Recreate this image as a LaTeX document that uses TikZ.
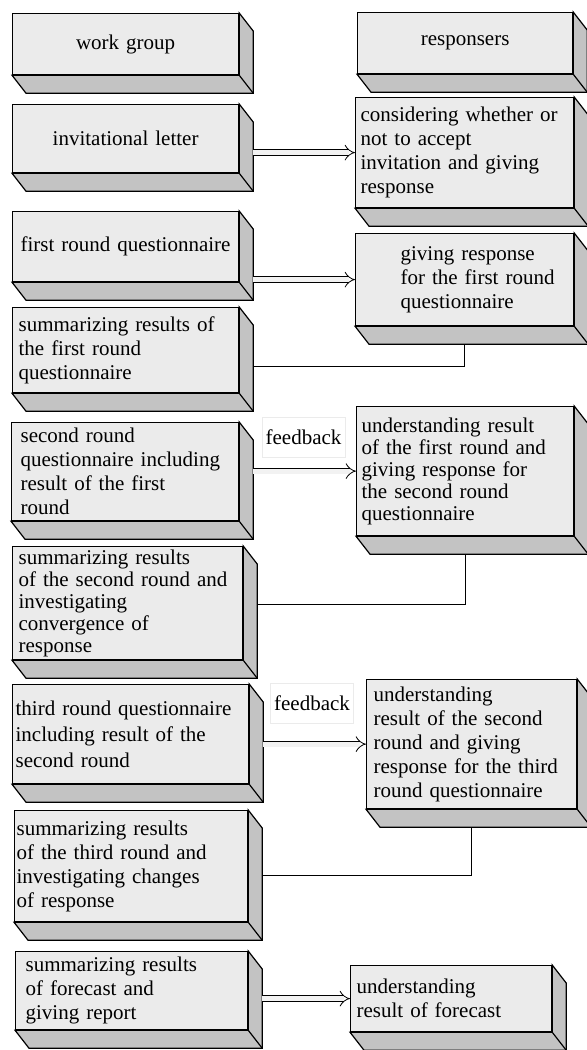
\documentclass[tikz,border=0pt]{standalone}
\usepackage{fontspec}
\setmainfont{Liberation Serif}
\usetikzlibrary{arrows.meta}

\definecolor{facefront}{HTML}{EBEBEB}
\definecolor{faceside}{HTML}{C3C3C3}
\newcommand{\boxfont}{\fontsize{10.5}{12}\selectfont}

\tikzset{
  slab/.style 2 args={draw, fill=facefront, line width=0.6pt, anchor=north west,
    inner xsep=1pt, inner ysep=0pt, text width=#1*0.5pt-2pt, minimum height=#2*0.5pt,
    align=left, font=\boxfont},
  indent/.style={execute at begin node={\pgfmathsetlength{\leftskip}{#1*0.5pt}}},
  shade/.style={draw, fill=faceside, line width=0.6pt},
  feed/.style={double=gray!10, double distance=2.4pt, line width=0.4pt, -{Implies}},
  link/.style={line width=0.6pt},
  tag/.style={draw=black!8, fill=white, minimum width=41.5pt, minimum height=20pt,
    inner sep=0pt, font=\boxfont}
}

\begin{document}
\begin{tikzpicture}[x=0.5pt, y=-0.5pt]

\useasboundingbox (0,0) rectangle (587,1050);

% work group column
\node[slab={226}{61}, align=center] (work) at (12,13) {work group};
\node[slab={226}{68}, align=center] (letter) at (12,104) {invitational letter};
\node[slab={226}{70}, indent=6] (q1) at (12,211) {first round questionnaire};
\node[slab={226}{85}, indent=4] (sum1) at (12,307) {summarizing results of\\the first round\\questionnaire};
\node[slab={227}{98}, indent=7] (q2) at (11,422) {second round\\questionnaire including\\result of the first\\round};
\node[slab={230}{113}, indent=4, font=\fontsize{10.5}{11}\selectfont] (sum2) at (12,546) {summarizing results\\of the second round and\\investigating\\convergence of\\response};
\node[slab={236}{99}, indent=1, font=\fontsize{10.5}{13}\selectfont] (q3) at (12,684) {third round questionnaire\\including result of the\\second round};
\node[slab={233}{111}] (sum3) at (14,810) {\makebox[92pt][s]{summarizing results}\\\makebox[111pt][s]{of the third round and}\\investigating changes\\of response};
\node[slab={232}{78}, indent=8] (report) at (15,951) {summarizing results\\of forecast and\\giving report};

% responsers column
\node[slab={215}{61}, align=center] (resp) at (357,12) {responsers};
\node[slab={218}{110}, indent=3] (accept) at (355,97) {considering whether or\\not to accept\\invitation and giving\\response};
\node[slab={218}{92}, indent=43] (ans1) at (355,233) {giving response\\for the first round\\questionnaire};
\node[slab={217}{129}, indent=3, font=\fontsize{10.5}{11}\selectfont] (ans2) at (356,406) {understanding result\\of the first round and\\giving response for\\the second round\\questionnaire};
\node[slab={210}{129}, indent=5] (ans3) at (366,679) {understanding\\result of the second\\round and giving\\response for the third\\round questionnaire};
\node[slab={201}{66}, indent=4] (result) at (350,965) {understanding\\result of forecast};

% side and bottom faces
\foreach \b in {work,letter,q1,sum1,q2,sum2,q3,sum3,report,resp,accept,ans1,ans2,ans3,result}{
  \draw[shade] (\b.north east) -- ++(14,18) -- ([shift={(14,18)}]\b.south east)
    -- ([shift={(14,18)}]\b.south west) -- (\b.south west) -- (\b.south east) -- cycle;
  \draw[link] (\b.south east) -- ++(14,18);
}

\node[tag] (fb1) at (303.5,437) {feedback};
\node[tag] (fb2) at (312,703.5) {feedback};

\draw[feed] ([xshift=7pt]letter.east |- accept.west) -- (accept.west);
\draw[feed] ([xshift=7pt]q1.east |- ans1.west) -- (ans1.west);
\draw[feed] ([xshift=7pt]q2.east |- ans2.west) -- (ans2.west);
\draw[feed] ([xshift=7pt]q3.east |- ans3.west) -- (ans3.west);
\draw[feed] ([xshift=7pt]report.east |- result.west) -- (result.west);

\draw[link] ([yshift=-9pt]ans1.south) |- ([xshift=7pt,yshift=-8pt]sum1.east);
\draw[link] ([yshift=-9pt]ans2.south) |- ([xshift=7pt,yshift=-0.75pt]sum2.east);
\draw[link] ([yshift=-9pt]ans3.south) |- ([xshift=7pt,yshift=-4.75pt]sum3.east);

\end{tikzpicture}
\end{document}
